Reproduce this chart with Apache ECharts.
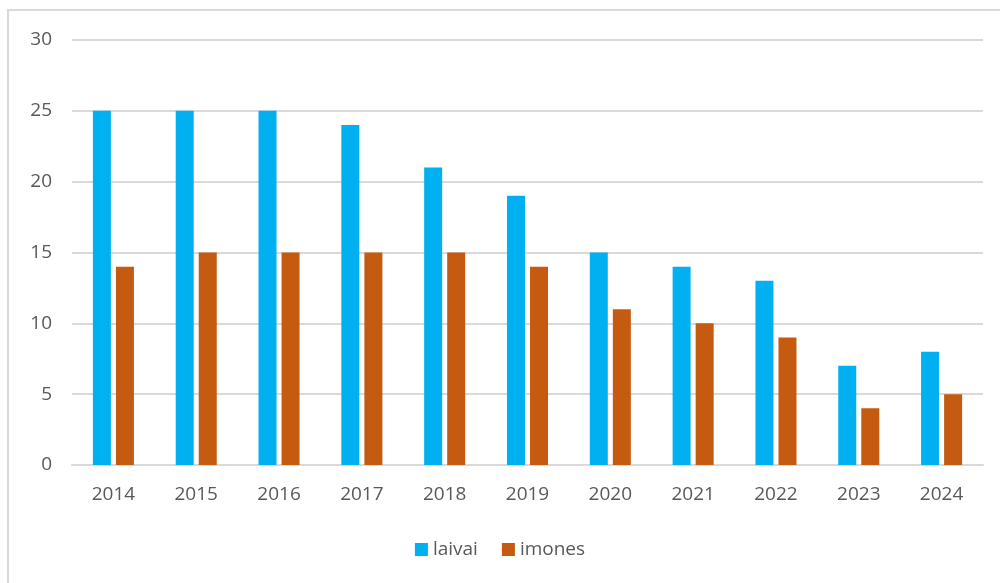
<!DOCTYPE html>
<html>
<head>
<meta charset="utf-8">
<script src="https://cdn.jsdelivr.net/npm/echarts@6/dist/echarts.min.js"></script>
<style>html,body{margin:0;padding:0;background:#fff;}#c{width:1000px;height:583px;}</style>
</head>
<body>
<div id="c"></div>
<script>
const categories = ['2014','2015','2016','2017','2018','2019','2020','2021','2022','2023','2024'];
const laivai = [25,25,25,24,21,19,15,14,13,7,8];
const imones = [14,15,15,15,15,14,11,10,9,4,5];

const chart = echarts.init(document.getElementById('c'), null, {renderer:'canvas'});
const font = 'Open Sans, Liberation Sans, sans-serif';
chart.setOption({
  animation:false,
  backgroundColor:'#fff',
  graphic:[{type:'rect', shape:{x:8,y:10,width:1100,height:700}, style:{fill:'none', stroke:'#d9d9d9', lineWidth:2}, silent:true}],
  grid:{left:72, right:17, top:40, bottom:118, containLabel:false},
  legend:{bottom:19, left:'center', itemWidth:13, itemHeight:13, itemGap:24, icon:'rect',
    textStyle:{color:'#595959', fontSize:19, fontFamily:font},
    data:['laivai','imones']},
  xAxis:{type:'category', data:categories,
    axisLine:{lineStyle:{color:'#d9d9d9', width:2}}, axisTick:{show:false},
    axisLabel:{color:'#595959', fontSize:19, fontFamily:font, margin:20}},
  yAxis:{type:'value', min:0, max:30, interval:5,
    axisLine:{show:false}, axisTick:{show:false},
    splitLine:{lineStyle:{color:'#d9d9d9', width:2}},
    axisLabel:{color:'#595959', fontSize:19, fontFamily:font, margin:20}},
  series:[
    {name:'laivai', type:'bar', data:laivai, barWidth:18, barGap:'28%', itemStyle:{color:'#00B0F0'}},
    {name:'imones', type:'bar', data:imones, barWidth:18, itemStyle:{color:'#C55A11'}}
  ]
});
</script>
</body>
</html>
